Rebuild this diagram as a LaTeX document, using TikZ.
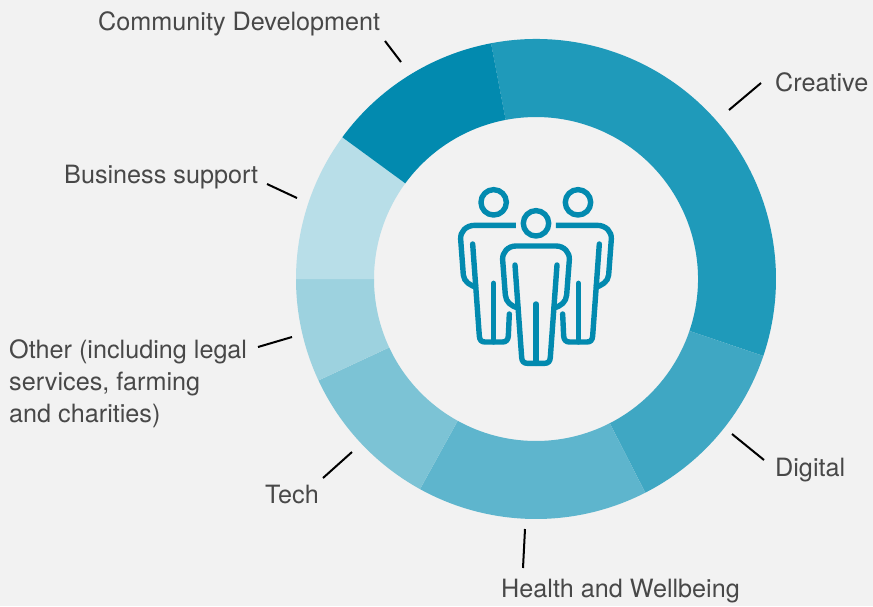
\documentclass[tikz,border=0pt]{standalone}
\usepackage{fontspec}
\setmainfont{TeX Gyre Heros}
\usetikzlibrary{calc}
\definecolor{bgc}{HTML}{F2F2F2}
\definecolor{cCreative}{HTML}{1F9ABA}
\definecolor{cDigital}{HTML}{3FA7C3}
\definecolor{cHealth}{HTML}{5EB5CD}
\definecolor{cTech}{HTML}{7CC3D5}
\definecolor{cOther}{HTML}{9DD2DF}
\definecolor{cBusiness}{HTML}{B8DEE8}
\definecolor{cCommunity}{HTML}{028AAF}
\definecolor{txt}{HTML}{484848}
\newcommand{\seg}[3]{\fill[#1] (536pt,-279pt) ++(#2:240pt) arc[start angle=#2,end angle=#3,radius=240pt] -- ($(536pt,-279pt)+(#3:162pt)$) arc[start angle=#3,end angle=#2,radius=162pt] -- cycle;}
\tikzset{
 lab/.style={anchor=base west,inner sep=0pt,text=txt,font=\fontsize{25.2}{32}\selectfont,align=left},
 tick/.style={draw=black,line width=2pt},
 icon/.style={draw=cCommunity,line width=5.4pt,line cap=round,line join=round}
}
\begin{document}
\begin{tikzpicture}[x=1pt,y=-1pt]
\useasboundingbox (0,0) rectangle (873,606);
\fill[bgc] (0,0) rectangle (873,606);
\seg{cCreative}{100.8}{-18.7}
\seg{cDigital}{-18.7}{-62.9}
\seg{cHealth}{-62.9}{-118.9}
\seg{cTech}{-118.9}{-155}
\seg{cOther}{-155}{-180}
\seg{cBusiness}{180}{143.8}
\seg{cCommunity}{143.8}{100.8}
\node[lab] (community) at (98,30) {Community Development};
\node[lab] (creative) at (775,91) {Creative};
\node[lab] (business) at (64,183) {Business support};
\node[lab] (other) at (9,422) {Other (including legal\\services, farming\\and charities)};
\node[lab] (tech) at (265,503) {Tech};
\node[lab] (digital) at (775,476) {Digital};
\node[lab] (health) at (501,597) {Health and Wellbeing};
\coordinate (t1a) at (385,41); \coordinate (t1b) at (401,62);
\coordinate (t2a) at (761,83); \coordinate (t2b) at (729,110);
\coordinate (t3a) at (267,184); \coordinate (t3b) at (297,198);
\coordinate (t4a) at (258,347); \coordinate (t4b) at (292,337);
\coordinate (t5a) at (323,478); \coordinate (t5b) at (352,452);
\coordinate (t6a) at (764,460); \coordinate (t6b) at (732,434);
\coordinate (t7a) at (523,568); \coordinate (t7b) at (525,529);
\foreach \i in {1,...,7} \draw[tick] (t\i a) -- (t\i b);
\begin{scope}[shift={(440,170)},x=0.3333pt,y=-0.3333pt]
 \draw[icon] (161,97) circle[radius=12.7pt];
 \draw[icon] (414,97) circle[radius=12.7pt];
 \draw[icon] (288,160) circle[radius=12.7pt];
 % left person
 \draw[icon,line cap=butt] (228,166) -- (105,166) .. controls (78,166) and (60,185) .. (62,208) -- (70,315) .. controls (72,335) and (90,347) .. (113,353);
 \draw[icon] (98,222) -- (118,498) .. controls (119,510) and (124,516) .. (135,516) -- (188,516) .. controls (198,516) and (204,510) .. (205,498) -- (208,432);
 \draw[icon] (161,340) -- (161,516);
 % right person
 \draw[icon,line cap=butt] (348,166) -- (471,166) .. controls (498,166) and (516,185) .. (514,208) -- (506,315) .. controls (504,335) and (486,347) .. (463,353);
 \draw[icon] (478,222) -- (458,498) .. controls (457,510) and (452,516) .. (441,516) -- (388,516) .. controls (378,516) and (372,510) .. (371,498) -- (368,432);
 \draw[icon] (415,340) -- (415,516);
 % centre person
 \draw[icon] (235,414) .. controls (212,408) and (198,396) .. (196,375) -- (188,270) .. controls (186,247) and (204,228) .. (228,228) -- (348,228) .. controls (372,228) and (390,247) .. (388,270) -- (380,375) .. controls (378,396) and (364,408) .. (341,414);
 \draw[icon] (225,285) -- (245,562) .. controls (246,574) and (251,580) .. (262,580) -- (314,580) .. controls (325,580) and (330,574) .. (331,562) -- (351,285);
 \draw[icon] (288,402) -- (288,580);
\end{scope}
\end{tikzpicture}
\end{document}
